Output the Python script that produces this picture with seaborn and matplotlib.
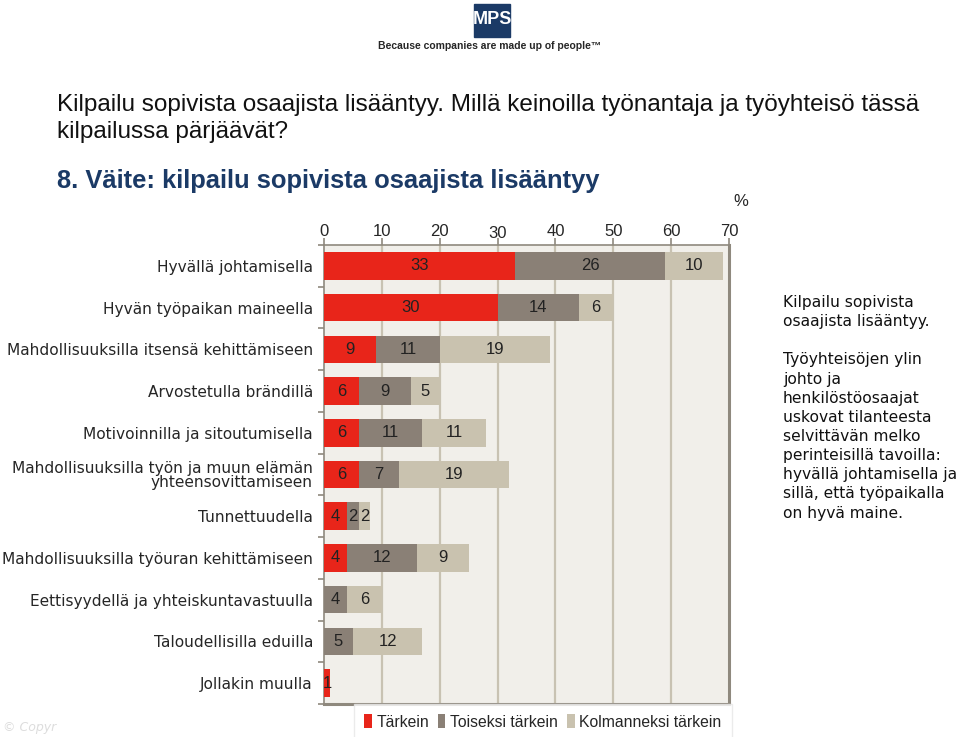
import numpy as np
import pandas as pd
import seaborn as sns
import matplotlib.pyplot as plt
from matplotlib.patches import Patch, Rectangle
from matplotlib.transforms import offset_copy

categories = [
    "Hyvällä johtamisella",
    "Hyvän työpaikan maineella",
    "Mahdollisuuksilla itsensä kehittämiseen",
    "Arvostetulla brändillä",
    "Motivoinnilla ja sitoutumisella",
    "Mahdollisuuksilla työn ja muun elämän\nyhteensovittamiseen",
    "Tunnettuudella",
    "Mahdollisuuksilla työuran kehittämiseen",
    "Eettisyydellä ja yhteiskuntavastuulla",
    "Taloudellisilla eduilla",
    "Jollakin muulla",
]
tarkein = [33, 30, 9, 6, 6, 6, 4, 4, 0, 0, 1]
toiseksi = [26, 14, 11, 9, 11, 7, 2, 12, 4, 5, 0]
kolmanneksi = [10, 6, 19, 5, 11, 19, 2, 9, 6, 12, 0]
series_names = ["Tärkein", "Toiseksi tärkein", "Kolmanneksi tärkein"]
x_ticks = [0, 10, 20, 30, 40, 50, 60, 70]

colors = ["#E8251A", "#8A8076", "#C9C2AF"]
bg = "#F1EFEA"
grid_c = "#C8C2B2"
spine_c = "#8F897E"

sns.set_theme(style="white")
plt.rcParams['font.family'] = ['DejaVu Sans']
narrow = ['Liberation Sans Narrow', 'Liberation Sans', 'DejaVu Sans']
arial = ['Liberation Sans', 'DejaVu Sans']

df = pd.DataFrame({"kategoria": categories, "t1": tarkein,
                   "t2": toiseksi, "t3": kolmanneksi})
df["s2"] = df["t1"] + df["t2"]
df["s3"] = df["s2"] + df["t3"]

fig = plt.figure(figsize=(9.6, 7.37), dpi=100)
ax = fig.add_axes([0.3375, 0.0448, 0.4219, 0.6228])
ax.set_facecolor(bg)

# stacked bars drawn as overlapping cumulative totals
for col, c in zip(["s3", "s2", "t1"], colors[::-1]):
    sns.barplot(data=df, x=col, y="kategoria", color=c, saturation=1,
                width=0.66, errorbar=None, orient="h", ax=ax, zorder=3,
                linewidth=0, edgecolor="none")

for i, row in df.iterrows():
    starts = [0, row.t1, row.s2]
    for s, v in zip(starts, [row.t1, row.t2, row.t3]):
        if v > 0:
            ax.text(s + v / 2, i, str(v), ha="center", va="center",
                    fontsize=12, color="#222222", family=arial, zorder=4)

ax.set_xlim(0, 70)
ax.set_ylim(10.5, -0.5)
ax.set_xticks(x_ticks)
ax.xaxis.tick_top()
ax.tick_params(axis="x", direction="out", length=5, width=1.2,
               color=spine_c, pad=-1, labelsize=12, top=True, bottom=False)
for val, lab in zip(x_ticks, ax.get_xticklabels()):
    lab.set_family(arial)
    if val == 30:
        lab.set_transform(offset_copy(lab.get_transform(), fig=fig, y=-2, units="dots"))
ax.set_yticks(range(len(categories)))
ax.set_yticklabels(categories, fontsize=11.1, linespacing=0.95)
ax.set_yticks(np.arange(-0.5, 11, 1), minor=True)
ax.tick_params(axis="y", which="major", length=0, pad=8, left=True)
ax.tick_params(axis="y", which="minor", length=4, width=1.2,
               color=spine_c, left=True)
ax.set_xlabel("")
ax.set_ylabel("")
for x in x_ticks[1:-1]:
    ax.axvline(x, color=grid_c, lw=1.6, zorder=1)

ax.spines["top"].set_color(spine_c)
ax.spines["top"].set_linewidth(1.2)
ax.spines["left"].set_color(spine_c)
ax.spines["left"].set_linewidth(1.2)
ax.spines["right"].set_color(spine_c)
ax.spines["right"].set_linewidth(2.2)
ax.spines["bottom"].set_color(spine_c)
ax.spines["bottom"].set_linewidth(2.2)

fig.text(733 / 960, 1 - 202 / 737, "%", fontsize=12, ha="left", va="center",
         family=arial)

# header texts
fig.text(57 / 960, 1 - 94 / 737,
         "Kilpailu sopivista osaajista lisääntyy. Millä keinoilla työnantaja ja työyhteisö tässä\nkilpailussa pärjäävät?",
         fontsize=17.5, ha="left", va="top", linespacing=1.3, family=narrow,
         color="#111111")
fig.text(57 / 960, 1 - 181 / 737, "8. Väite: kilpailu sopivista osaajista lisääntyy",
         fontsize=18.4, fontweight="bold", ha="left", va="center",
         family=narrow, color="#1B3A66")

# logo
fig.patches.append(Rectangle((474 / 960, 1 - 37 / 737), 36 / 960, 33 / 737,
                             transform=fig.transFigure, color="#1B3A66"))
fig.text(492 / 960, 1 - 20 / 737, "MPS", fontsize=13, fontweight="bold",
         color="white", ha="center", va="center", family=narrow)
fig.text(490 / 960, 1 - 46 / 737, "Because companies are made up of people\u2122",
         fontsize=7.5, fontweight="bold", ha="center", va="center", family=narrow)

# side comment
fig.text(783 / 960, 1 - 295 / 737,
         "Kilpailu sopivista\nosaajista lisääntyy.\n\nTyöyhteisöjen ylin\njohto ja\n"
         "henkilöstöosaajat\nuskovat tilanteesta\nselvittävän melko\n"
         "perinteisillä tavoilla:\nhyvällä johtamisella ja\nsillä, että työpaikalla\n"
         "on hyvä maine.",
         fontsize=11.2, ha="left", va="top", linespacing=1.345, color="#111111")

fig.text(3 / 960, 1 - 727 / 737, "© Copyr", fontsize=9, style="italic",
         color="#DDDDDD", ha="left", va="center")

handles = [Patch(facecolor=c, edgecolor="none") for c in colors]
leg = fig.legend(handles, series_names, loc="center", ncol=3,
                 bbox_to_anchor=(543 / 960, 1 - 722 / 737), frameon=True,
                 handlelength=0.45, handleheight=1.0, handletextpad=0.3,
                 columnspacing=0.6, borderpad=0.35,
                 prop={"family": narrow, "size": 11.3})
leg.get_frame().set_edgecolor("#E6E6E6")
leg.get_frame().set_linewidth(1)
leg.get_frame().set_boxstyle("square")

fig.savefig("out.png", dpi=100)
